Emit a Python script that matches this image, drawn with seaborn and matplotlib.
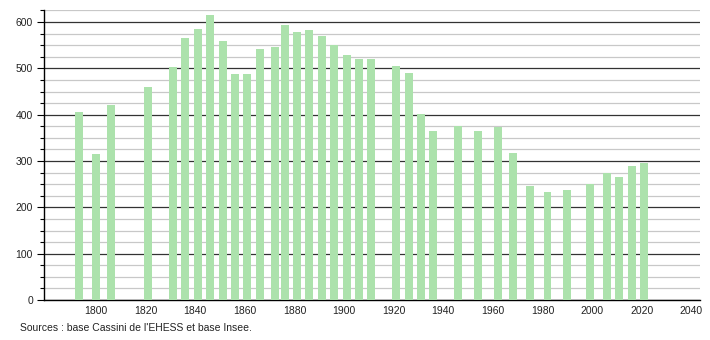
import matplotlib
matplotlib.use("Agg")
import matplotlib.pyplot as plt
import seaborn as sns
import pandas as pd
from matplotlib.ticker import MultipleLocator

years = [1793, 1800, 1806, 1821, 1831, 1836, 1841, 1846, 1851, 1856, 1861,
         1866, 1872, 1876, 1881, 1886, 1891, 1896, 1901, 1906, 1911,
         1921, 1926, 1931, 1936, 1946, 1954, 1962, 1968, 1975, 1982,
         1990, 1999, 2006, 2011, 2016, 2021]
population = [406, 315, 421, 460, 503, 565, 585, 615, 559, 488, 488,
              542, 546, 594, 578, 583, 570, 550, 529, 520, 520,
              505, 490, 401, 365, 375, 365, 373, 317, 246, 233,
              237, 250, 274, 265, 289, 296]
x_ticks = [1800, 1820, 1840, 1860, 1880, 1900, 1920, 1940, 1960, 1980, 2000, 2020, 2040]
y_ticks = [0, 100, 200, 300, 400, 500, 600]
source_text = "Sources : base Cassini de l'EHESS et base Insee."

df = pd.DataFrame({"year": years, "pop": population})

sns.set_style("white")
plt.rcParams['font.family'] = ['Liberation Sans', 'DejaVu Sans']
plt.rcParams['text.color'] = '#222222'
plt.rcParams['xtick.color'] = '#222222'
plt.rcParams['ytick.color'] = '#222222'

fig = plt.figure(figsize=(7.1, 3.4), dpi=100)
ax = fig.add_axes([44/710, 1 - 300/340, (700 - 44)/710, 290/340])

sns.barplot(data=df, x="year", y="pop", native_scale=True, width=0.8,
            color="#ace2ac", saturation=1, linewidth=0, edgecolor="none",
            ax=ax, zorder=3)

ax.set_xlim(1779, 2043.5)
ax.set_ylim(0, 626)
ax.set_xticks(x_ticks)
ax.set_xticklabels([str(t) for t in x_ticks])
ax.set_yticks(y_ticks)
ax.yaxis.set_minor_locator(MultipleLocator(25))

ax.grid(axis="y", which="major", color="#333333", linewidth=0.9, zorder=0)
ax.grid(axis="y", which="minor", color="#c8c8c8", linewidth=0.9, zorder=0)
ax.grid(axis="x", visible=False)
ax.set_axisbelow(True)

ax.set_xlabel("")
ax.set_ylabel("")
for s in ["top", "right"]:
    ax.spines[s].set_visible(False)
for s in ["left", "bottom"]:
    ax.spines[s].set_visible(True)
    ax.spines[s].set_color("black")
    ax.spines[s].set_linewidth(1.0)

ax.tick_params(axis="y", which="major", length=5, width=0.8, color="black",
               labelsize=7.5, pad=3, left=True)
ax.tick_params(axis="y", which="minor", length=3, width=0.8, color="black", left=True)
ax.tick_params(axis="x", which="major", length=0, labelsize=7.5, pad=4)

fig.text(20/710, 1 - 328/340, source_text, fontsize=7.5, va="center", ha="left")

fig.savefig("out.png", dpi=100)
